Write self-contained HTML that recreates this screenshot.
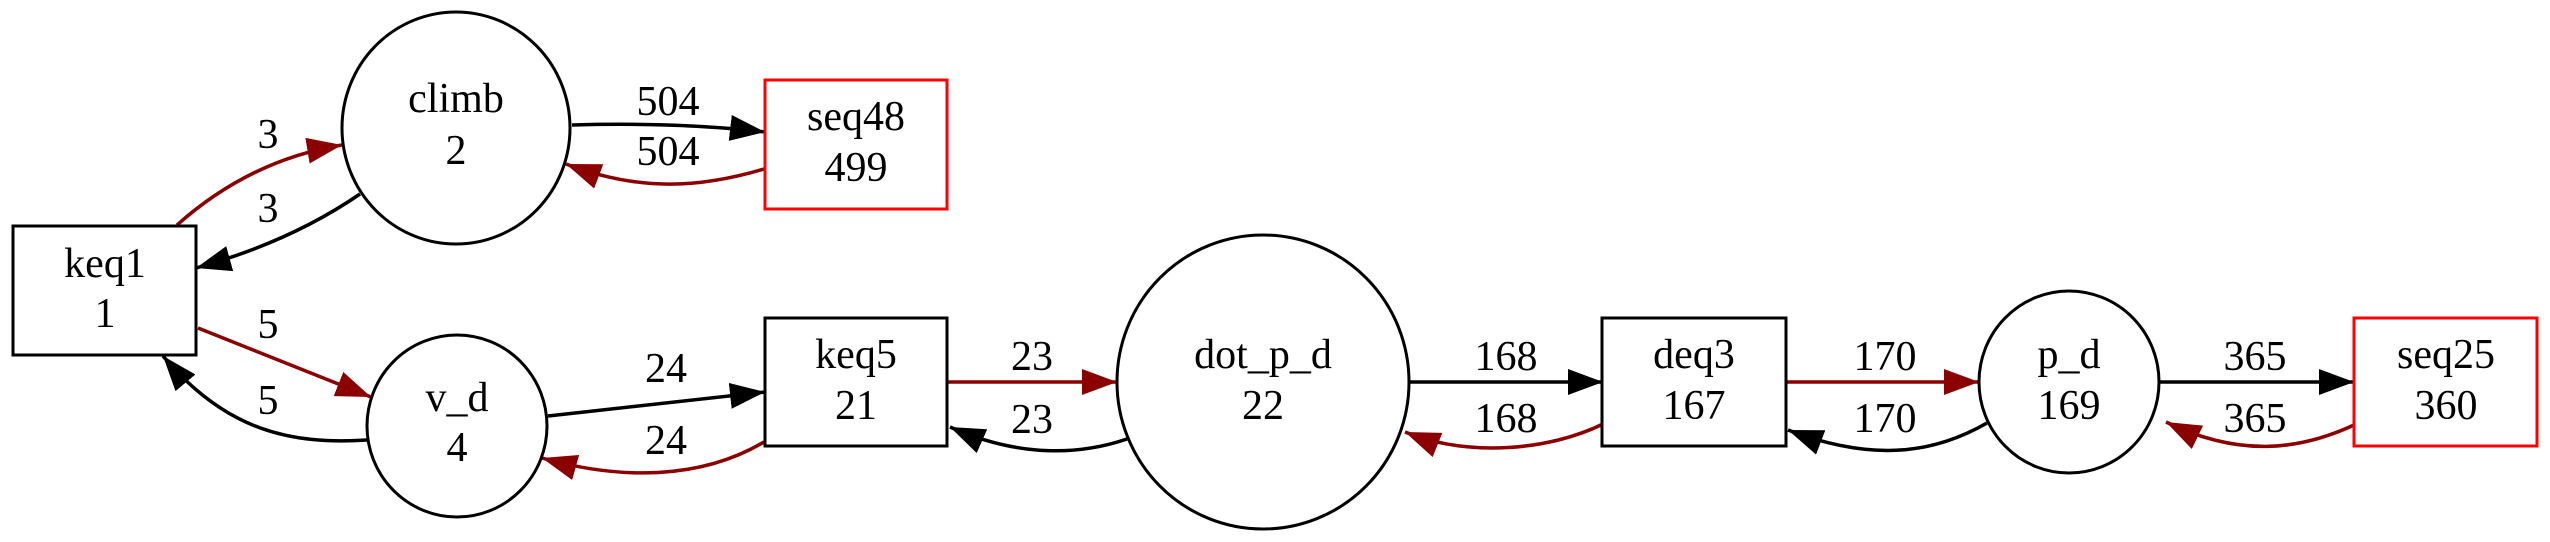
<!DOCTYPE html>
<html><head><meta charset="utf-8"><style>
html,body{margin:0;padding:0;background:#fff;}
svg{display:block;}
text{font-family:"Liberation Serif",serif;font-size:42px;text-anchor:middle;fill:#000;}
</style></head><body>
<svg width="2550" height="542" viewBox="0 0 2550 542" xmlns="http://www.w3.org/2000/svg">
<defs>
<marker id="ab" viewBox="0 0 35 26" refX="35" refY="13" markerWidth="35" markerHeight="26" markerUnits="userSpaceOnUse" orient="auto"><path d="M0,0 L35,13 L0,26 z" fill="#000"/></marker>
<marker id="ar" viewBox="0 0 35 26" refX="35" refY="13" markerWidth="35" markerHeight="26" markerUnits="userSpaceOnUse" orient="auto"><path d="M0,0 L35,13 L0,26 z" fill="#8b0000"/></marker>
</defs>
<g fill="none" stroke-width="3.5">
<path d="M177,225 Q250,160 342,145" stroke="#8b0000" marker-end="url(#ar)"/>
<path d="M360,194 Q290,242 196,268" stroke="#000" marker-end="url(#ab)"/>
<path d="M572,125 Q680,122 765,132" stroke="#000" marker-end="url(#ab)"/>
<path d="M764,169 C700,188 640,192 566,164" stroke="#8b0000" marker-end="url(#ar)"/>
<path d="M198,328 L371,397" stroke="#8b0000" marker-end="url(#ar)"/>
<path d="M367,440 C290,445 225,430 163,356" stroke="#000" marker-end="url(#ab)"/>
<path d="M548,416 L765,392" stroke="#000" marker-end="url(#ab)"/>
<path d="M764,442 C700,480 620,480 542,458" stroke="#8b0000" marker-end="url(#ar)"/>
<path d="M947,382 L1117,382" stroke="#8b0000" marker-end="url(#ar)"/>
<path d="M1127,439 C1080,455 1020,458 950,427" stroke="#000" marker-end="url(#ab)"/>
<path d="M1410,382 L1603,382" stroke="#000" marker-end="url(#ab)"/>
<path d="M1603,424 C1550,450 1470,458 1405,432" stroke="#8b0000" marker-end="url(#ar)"/>
<path d="M1786,382 L1979,382" stroke="#8b0000" marker-end="url(#ar)"/>
<path d="M1987,423 C1940,450 1880,465 1788,430" stroke="#000" marker-end="url(#ab)"/>
<path d="M2159,382 L2354,382" stroke="#000" marker-end="url(#ab)"/>
<path d="M2354,425 C2300,450 2240,458 2166,422" stroke="#8b0000" marker-end="url(#ar)"/>
</g>
<g fill="#fff" stroke="#000" stroke-width="3">
<rect x="13" y="226" width="183" height="129"/>
<ellipse cx="456" cy="128" rx="114" ry="116"/>
<rect x="765" y="80" width="182" height="129" stroke="#ff0000"/>
<ellipse cx="457" cy="426" rx="90" ry="91"/>
<rect x="765" y="318" width="182" height="128"/>
<ellipse cx="1263" cy="382" rx="146" ry="147"/>
<rect x="1602" y="318" width="184" height="128"/>
<ellipse cx="2069" cy="382" rx="90" ry="91"/>
<rect x="2354" y="318" width="183" height="128" stroke="#ff0000"/>
</g>
<text x="105" y="277">keq1</text><text x="105" y="327">1</text>
<text x="456" y="112">climb</text><text x="456" y="164">2</text>
<text x="856" y="130">seq48</text><text x="856" y="181">499</text>
<text x="457" y="411">v_d</text><text x="457" y="461">4</text>
<text x="856" y="368">keq5</text><text x="856" y="419">21</text>
<text x="1263" y="368">dot_p_d</text><text x="1263" y="419">22</text>
<text x="1694" y="368">deq3</text><text x="1694" y="419">167</text>
<text x="2069" y="368">p_d</text><text x="2069" y="419">169</text>
<text x="2446" y="368">seq25</text><text x="2446" y="419">360</text>
<text x="268" y="148">3</text><text x="268" y="222">3</text>
<text x="668" y="115">504</text><text x="668" y="165">504</text>
<text x="268" y="338">5</text><text x="268" y="414">5</text>
<text x="666" y="382">24</text><text x="666" y="454">24</text>
<text x="1032" y="370">23</text><text x="1032" y="433">23</text>
<text x="1506" y="370">168</text><text x="1506" y="432">168</text>
<text x="1885" y="370">170</text><text x="1885" y="432">170</text>
<text x="2255" y="370">365</text><text x="2255" y="432">365</text>
</svg>
</body></html>
